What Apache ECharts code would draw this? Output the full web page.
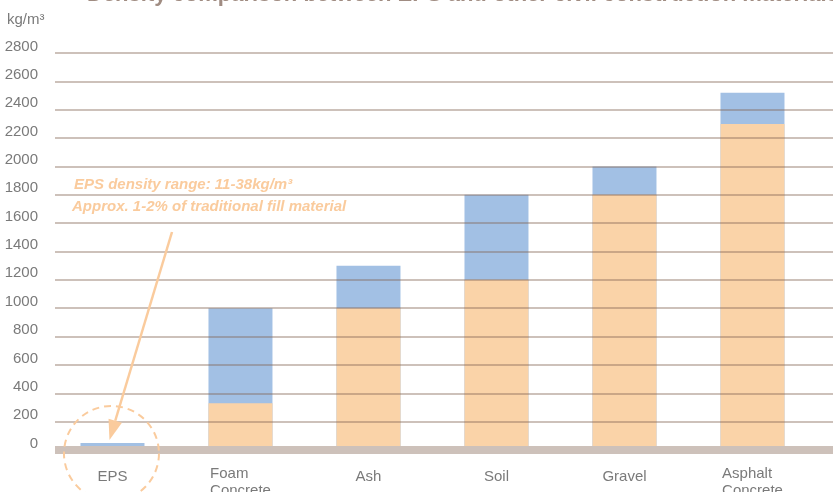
<!DOCTYPE html>
<html>
<head>
<meta charset="utf-8">
<script src="https://cdn.jsdelivr.net/npm/echarts@6/dist/echarts.min.js"></script>
<style>
html,body{margin:0;padding:0;background:#fff;}
#chart{width:833px;height:492px;}
</style>
</head>
<body>
<div id="chart"></div>
<script>
const categories = ['EPS', 'Foam\nConcrete', 'Ash', 'Soil', 'Gravel', 'Asphalt\nConcrete'];
const lowDensity = [11, 330, 1000, 1200, 1800, 2300];
const highDensity = [50, 1000, 1300, 1800, 2000, 2520];
const yTicks = [0, 200, 400, 600, 800, 1000, 1200, 1400, 1600, 1800, 2000, 2200, 2400, 2600, 2800];
const titleText = 'Density comparison between EPS and other civil construction materials';
const unitText = 'kg/m³';
const noteLines = ['EPS density range: 11-38kg/m³', 'Approx. 1-2% of traditional fill material'];

const FONT = "'Liberation Sans Narrow', 'Liberation Sans', Arial, sans-serif";
const ORANGE = '#FAD3A8';
const BLUE = '#A2C0E4';
const NOTE = '#FACB9D';
const LINE = 'rgba(130,100,83,0.4)';
const LABEL = '#7a7a7a';

const chart = echarts.init(document.getElementById('chart'), null, {renderer: 'canvas'});

const lowData = lowDensity.map((v, i) => [i, v]);
const highData = highDensity.map((v, i) => [i, v]);

chart.setOption({
  animation: false,
  backgroundColor: '#fff',
  grid: {left: 55, right: 0, top: 53, bottom: 42, containLabel: false, outerBoundsMode: 'none'},
  xAxis: {
    type: 'value',
    min: -0.449,
    max: 5.629,
    z: 10,
    offset: 2,
    axisLine: {show: true, lineStyle: {color: '#CDC1BA', width: 8, cap: 'butt'}},
    axisTick: {show: false},
    splitLine: {show: false},
    axisLabel: {
      customValues: categories.map((c, i) => i),
      formatter: v => {
        const parts = categories[Math.round(v)].split('\n');
        if (parts.length === 1) return '{s|' + parts[0] + '}';
        return parts.map(s => '{l|' + s + '}').join('\n');
      },
      color: LABEL,
      fontFamily: FONT,
      fontSize: 15,
      margin: 13,
      showMinLabel: true,
      showMaxLabel: true,
      rich: {
        l: {align: 'left', fontFamily: FONT, fontSize: 15, color: LABEL, lineHeight: 17},
        s: {fontFamily: FONT, fontSize: 15, color: LABEL, lineHeight: 17, padding: [7, 0, 0, 0]}
      }
    }
  },
  yAxis: {
    type: 'value',
    min: yTicks[0],
    max: yTicks[yTicks.length - 1],
    interval: yTicks[1] - yTicks[0],
    z: 3,
    axisLine: {show: false},
    axisTick: {show: false},
    splitLine: {show: true, lineStyle: {color: LINE, width: 2}},
    axisLabel: {
      formatter: v => String(v),
      color: LABEL,
      fontFamily: FONT,
      fontSize: 15,
      margin: 17,
      verticalAlign: 'bottom',
      lineHeight: 13
    }
  },
  series: [
    {type: 'bar', name: 'max', data: highData, barWidth: 64, barGap: '-100%', itemStyle: {color: BLUE}},
    {type: 'bar', name: 'min', data: lowData, barWidth: 64, barGap: '-100%', itemStyle: {color: ORANGE}}
  ]
});

const p0 = chart.convertToPixel({xAxisIndex: 0, yAxisIndex: 0}, [0, 0]);
const pTop = chart.convertToPixel({xAxisIndex: 0, yAxisIndex: 0}, [0, highDensity[0]]);
const start = [172, 232];
const tip = [pTop[0] - 3, pTop[1] - 3];
const ang = Math.atan2(tip[1] - start[1], tip[0] - start[0]);
const headLen = 20, headHalf = 7;
const bx = tip[0] - headLen * Math.cos(ang), by = tip[1] - headLen * Math.sin(ang);
const nx = -Math.sin(ang), ny = Math.cos(ang);

chart.setOption({
  graphic: [
    {type: 'text', x: 87, y: -5, style: {text: titleText, fill: '#A08C82', font: "bold 22px 'Liberation Sans', Arial, sans-serif", verticalAlign: 'middle'}},
    {type: 'text', x: 7, y: 20, style: {text: unitText, fill: LABEL, font: '15px ' + FONT, verticalAlign: 'middle'}},
    {type: 'text', x: 74, y: 185, style: {text: noteLines[0], fill: NOTE, font: 'italic bold 15px ' + FONT, verticalAlign: 'middle'}},
    {type: 'text', x: 72, y: 207, style: {text: noteLines[1], fill: NOTE, font: 'italic bold 15px ' + FONT, verticalAlign: 'middle'}},
    {type: 'line', shape: {x1: start[0], y1: start[1], x2: bx, y2: by}, style: {stroke: NOTE, lineWidth: 2.5}, z: 20},
    {type: 'polygon', shape: {points: [tip, [bx + nx * headHalf, by + ny * headHalf], [bx - nx * headHalf, by - ny * headHalf]]}, style: {fill: NOTE}, z: 20},
    {type: 'circle', shape: {cx: p0[0] - 1, cy: p0[1] + 3.5, r: 47.5}, style: {fill: 'none', stroke: NOTE, lineWidth: 2, lineDash: [7, 5]}, z: 20}
  ]
});
</script>
</body>
</html>
